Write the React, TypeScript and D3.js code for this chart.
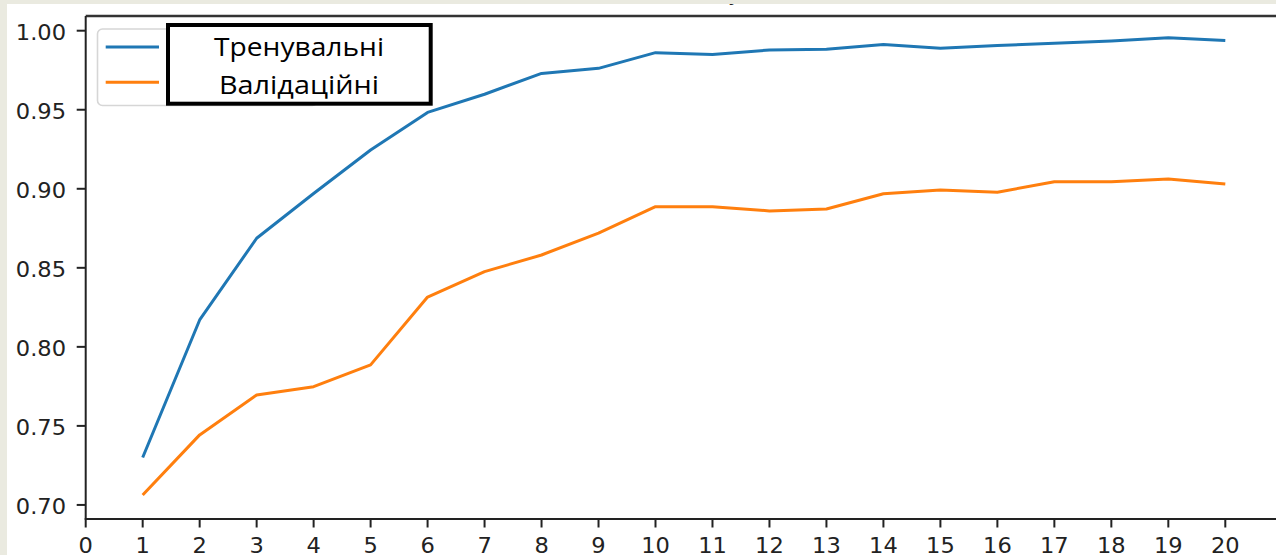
import React from "react";
import * as d3 from "d3";

const epochs = d3.range(1, 21);
const trainAcc = [0.730, 0.817, 0.8687, 0.897, 0.9245, 0.9483, 0.9598, 0.973, 0.9762, 0.9861, 0.985, 0.9878, 0.9883, 0.9912, 0.9889, 0.9907, 0.992, 0.9935, 0.9955, 0.9938];
const valAcc = [0.7063, 0.7443, 0.7696, 0.7748, 0.7886, 0.8315, 0.8476, 0.8581, 0.8719, 0.8887, 0.8887, 0.886, 0.8872, 0.8969, 0.8992, 0.8978, 0.9045, 0.9045, 0.9062, 0.903];
const xTicks = d3.range(0, 21);
const yTicks = [0.70, 0.75, 0.80, 0.85, 0.90, 0.95, 1.00];
const legendLabels = ["Тренувальні", "Валідаційні"];
const seriesColors = ["#1f77b4", "#ff7f0e"];

const W = 1276;
const H = 555;

export default function App() {
  const left = 85.7;
  const top = 16;
  const bottom = 519;
  const x = d3.scaleLinear().domain([0, 20]).range([left, 1225.3]);
  const y = d3.scaleLinear().domain([0.6911, 1.0093]).range([bottom, top]);
  const line = d3
    .line<number>()
    .x((_, i) => x(epochs[i]))
    .y((d) => y(d));
  const series = [trainAcc, valAcc];
  const tickFont = "'DejaVu Sans', sans-serif";

  return (
    <svg
      width={W}
      height={H}
      style={{ position: "absolute", left: 0, top: 0, display: "block", background: "#fff" }}
    >
      <rect x={0} y={0} width={W} height={H} fill="#ffffff" />
      {/* cut-off title fragment */}
      <text x={728} y={1} fontFamily={tickFont} fontSize={22} fill="#222">y</text>

      {/* plot lines */}
      {series.map((s, i) => (
        <path key={i} d={line(s) || ""} fill="none" stroke={seriesColors[i]} strokeWidth={3} strokeLinejoin="round" strokeLinecap="butt" />
      ))}

      {/* spines */}
      <line x1={left} x2={W} y1={top} y2={top} stroke="#333" strokeWidth={2.4} />
      <line x1={left} x2={left} y1={top} y2={bottom} stroke="#222" strokeWidth={2} />
      <line x1={left - 1} x2={W} y1={bottom} y2={bottom} stroke="#222" strokeWidth={2} />

      {/* y ticks */}
      {yTicks.map((t) => (
        <g key={t}>
          <line x1={left - 9} x2={left} y1={y(t)} y2={y(t)} stroke="#222" strokeWidth={2} />
          <text
            transform={`translate(66,${y(t) + 9}) scale(1.1,1)`}
            textAnchor="end"
            fontFamily={tickFont}
            fontSize={20.5}
            fill="#222"
          >
            {t.toFixed(2)}
          </text>
        </g>
      ))}

      {/* x ticks */}
      {xTicks.map((t) => (
        <g key={t}>
          <line x1={x(t)} x2={x(t)} y1={bottom} y2={bottom + 8.5} stroke="#222" strokeWidth={2} />
          <text
            transform={`translate(${x(t)},553) scale(1.1,1)`}
            textAnchor="middle"
            fontFamily={tickFont}
            fontSize={20.5}
            fill="#222"
          >
            {t}
          </text>
        </g>
      ))}

      {/* matplotlib legend (mostly hidden) */}
      <rect x={97.5} y={29} width={220} height={76.5} rx={5} fill="#ffffff" fillOpacity={0.85} stroke="#d6d6d6" strokeWidth={1.6} />
      {seriesColors.map((c, i) => (
        <line key={c} x1={105.7} x2={159} y1={47 + i * 35.3} y2={47 + i * 35.3} stroke={c} strokeWidth={3} />
      ))}

      {/* overlaid text box */}
      <rect x={168} y={25} width={262.7} height={78.7} fill="#ffffff" stroke="#000" strokeWidth={4} />
      {legendLabels.map((lab, i) => (
        <text
          key={lab}
          x={299}
          y={56 + i * 38.3}
          textAnchor="middle"
          fontFamily="'Open Sans', 'Noto Sans', sans-serif"
          fontSize={26}
          fill="#000"
          textLength={i === 0 ? 170 : 160}
          lengthAdjust="spacingAndGlyphs"
        >
          {lab}
        </text>
      ))}

      {/* screenshot beige borders */}
      <rect x={0} y={0} width={W} height={4} fill="#eaeae0" />
      <rect x={0} y={0} width={7} height={H} fill="#eaeae0" />
    </svg>
  );
}
